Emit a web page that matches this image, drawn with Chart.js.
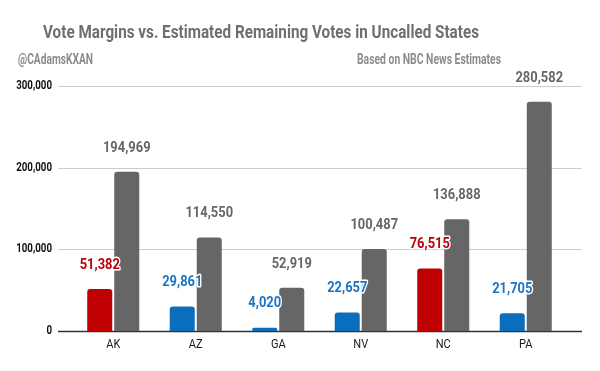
<!DOCTYPE html>
<html>
<head>
<meta charset="utf-8">
<script src="https://cdn.jsdelivr.net/npm/chart.js@4/dist/chart.umd.min.js"></script>
<style>
  body { margin: 0; background: #fff; }
  canvas { display: block; }
</style>
</head>
<body>
<canvas id="myChart" width="600" height="371"></canvas>
<script>
const states = ['AK', 'AZ', 'GA', 'NV', 'NC', 'PA'];
const margins = [51382, 29861, 4020, 22657, 76515, 21705];
const remaining = [194969, 114550, 52919, 100487, 136888, 280582];
const leader = ['R', 'D', 'D', 'D', 'R', 'D'];
const yTicks = [0, 100000, 200000, 300000];

const RED = '#c00000';
const BLUE = '#0b6ebd';
const GRAY = '#666666';
const FONT = 'Roboto, "Liberation Sans", sans-serif';

const fmt = v => v.toLocaleString('en-US');
const marginColors = leader.map(p => p === 'R' ? RED : BLUE);
const marginLabelColors = leader.map(p => p === 'R' ? '#b8000a' : '#1a74c4');

// the original uses a narrow face, so squeeze Roboto horizontally
function narrowText(ctx, txt, x, y, squeeze) {
  ctx.fillText(txt, x, y, ctx.measureText(txt).width * squeeze);
}

// gridlines run a bit past the category area, plus the dark zero line
const gridPlugin = {
  id: 'grid',
  beforeDatasetsDraw(chart) {
    const { ctx, chartArea, scales } = chart;
    const x0 = chartArea.left - 14, x1 = chartArea.right + 15;
    ctx.save();
    yTicks.forEach(t => {
      const y = Math.round(scales.y.getPixelForValue(t)) + 0.5;
      ctx.strokeStyle = t === 0 ? '#333' : '#cccccc';
      ctx.lineWidth = t === 0 ? 1.5 : 1;
      ctx.beginPath();
      ctx.moveTo(x0, y);
      ctx.lineTo(x1, y);
      ctx.stroke();
    });

    // axis labels, placed through the scales
    ctx.textBaseline = 'middle';
    ctx.fillStyle = '#111';
    ctx.font = 'bold 12px ' + FONT;
    ctx.textAlign = 'right';
    scales.y.ticks.forEach(t => {
      narrowText(ctx, fmt(t.value), chartArea.left - 20, scales.y.getPixelForValue(t.value), 0.81);
    });
    ctx.fillStyle = '#1a1a1a';
    ctx.font = '13px ' + FONT;
    ctx.textAlign = 'center';
    chart.data.labels.forEach((lab, i) => {
      narrowText(ctx, lab, scales.x.getPixelForValue(i), chartArea.bottom + 14, 0.85);
    });
    ctx.restore();
  }
};

// value labels above each bar, with a white halo
const labelPlugin = {
  id: 'labels',
  afterDatasetsDraw(chart) {
    const { ctx } = chart;
    ctx.save();
    ctx.font = 'bold 15px ' + FONT;
    ctx.textAlign = 'center';
    ctx.textBaseline = 'middle';
    ctx.lineJoin = 'round';
    chart.data.datasets.forEach((ds, di) => {
      chart.getDatasetMeta(di).data.forEach((bar, i) => {
        const txt = fmt(ds.data[i]);
        const y = bar.y - 24;
        const w = ctx.measureText(txt).width * 0.86;
        ctx.strokeStyle = '#fff';
        ctx.lineWidth = 3;
        ctx.strokeText(txt, bar.x, y, w);
        ctx.fillStyle = di === 0 ? marginLabelColors[i] : GRAY;
        ctx.fillText(txt, bar.x, y, w);
      });
    });
    ctx.restore();
  }
};

// title and the two small captions under it
const headPlugin = {
  id: 'head',
  afterDraw(chart) {
    const { ctx } = chart;
    ctx.save();
    ctx.textBaseline = 'middle';
    ctx.fillStyle = '#6f6f6f';
    ctx.font = 'bold 19px ' + FONT;
    ctx.textAlign = 'left';
    ctx.fillText('Vote Margins vs. Estimated Remaining Votes in Uncalled States', 43, 33, 436);
    ctx.fillStyle = '#8c8c8c';
    ctx.font = 'bold 14px ' + FONT;
    ctx.fillText('@CAdamsKXAN', 18, 60, 75);
    ctx.textAlign = 'right';
    ctx.fillText('Based on NBC News Estimates', 501, 60, 144);
    ctx.restore();
  }
};

const ctx = document.getElementById('myChart').getContext('2d');

let myChartObj = {
  type: 'bar',
  data: {
    labels: states,
    datasets: [{
      label: 'Vote margin',
      data: margins,
      backgroundColor: marginColors,
      borderRadius: 3,
      categoryPercentage: 0.655,
      barPercentage: 0.926
    }, {
      label: 'Estimated remaining votes',
      data: remaining,
      backgroundColor: GRAY,
      borderRadius: 3,
      categoryPercentage: 0.655,
      barPercentage: 0.926
    }]
  },
  options: {
    responsive: false,
    animation: false,
    layout: { padding: { top: 86, right: 33, left: 0, bottom: 0 } },
    plugins: {
      legend: { display: false },
      tooltip: { enabled: false },
      title: { display: false }
    },
    scales: {
      x: {
        grid: { display: false },
        border: { display: false },
        ticks: { display: false },
        afterFit: s => { s.height = 40; }
      },
      y: {
        min: 0,
        max: 300000,
        grid: { display: false },
        border: { display: false },
        ticks: { display: false, stepSize: 100000 },
        afterFit: s => { s.width = 72; }
      }
    }
  },
  plugins: [gridPlugin, labelPlugin, headPlugin]
};

const myChart = new Chart(ctx, myChartObj);
</script>
</body>
</html>
